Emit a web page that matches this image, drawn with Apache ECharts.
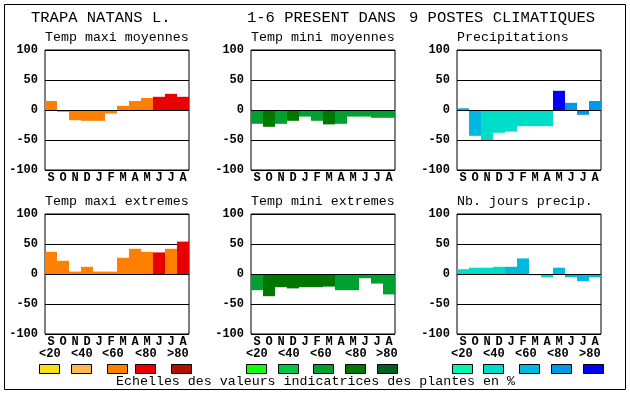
<!DOCTYPE html>
<html><head><meta charset="utf-8">
<script src="https://cdn.jsdelivr.net/npm/echarts@6/dist/echarts.min.js"></script>
<style>html,body{margin:0;padding:0;background:#fff}#c{width:630px;height:394px}</style>
</head><body><div id="c"></div>
<script>
// ---- data ----
const months = ['S','O','N','D','J','F','M','A','M','J','J','A'];
const titleParts = ['TRAPA NATANS L.', '1-6 PRESENT DANS', '9 POSTES CLIMATIQUES'];
const panelTitles = ['Temp maxi moyennes','Temp mini moyennes','Precipitations','Temp maxi extremes','Temp mini extremes','Nb. jours precip.'];
const tmaxMoy = [15,-3,-17,-18,-18,-6,7,15,20,22,27,22];
const tmaxMoyCls = [3,3,3,3,3,3,3,3,3,4,4,4];
const tminMoy = [-23,-28,-23,-18,-11,-18,-24,-23,-11,-11,-13,-13];
const tminMoyCls = [3,4,3,4,3,3,4,3,3,3,3,3];
const precip = [3,-43,-50,-38,-36,-27,-27,-27,32,12,-8,15];
const precipCls = [3,3,2,2,2,2,2,2,5,4,4,4];
const tmaxExt = [37,22,4,12,4,4,27,42,37,36,42,54];
const tmaxExtCls = [3,3,3,3,3,3,3,3,3,4,3,4];
const tminExt = [-27,-37,-22,-24,-22,-22,-21,-27,-27,-7,-16,-34];
const tminExtCls = [3,4,4,4,4,4,4,3,3,3,3,3];
const nbJours = [8,10.5,10.5,12,12,26,-2,-5.5,10.5,-5.5,-12,-5.5];
const nbJoursCls = [2,2,2,2,3,3,2,2,3,3,3,3];
const legendLabels = ['<20','<40','<60','<80','>80'];
const legendNote = 'Echelles des valeurs indicatrices des plantes en %';
const yMin = -100, yMax = 100, yStep = 50;
// colour scales
const tmaxColors = ['#F8E018','#FFB850','#FF8000','#E80000','#B01000'];
const tminColors = ['#10FF10','#00C840','#00A030','#007800','#006020'];
const precColors = ['#00F8B0','#00DCC8','#00B8E0','#0098E8','#0000F8'];

// ---- layout ----
const W = 144, H = 120;
const panels = [
  {l:45, t:50, v:tmaxMoy, c:tmaxMoyCls, pal:tmaxColors},
  {l:251,t:50, v:tminMoy, c:tminMoyCls, pal:tminColors},
  {l:457,t:50, v:precip,  c:precipCls,  pal:precColors},
  {l:45, t:214,v:tmaxExt, c:tmaxExtCls, pal:tmaxColors},
  {l:251,t:214,v:tminExt, c:tminExtCls, pal:tminColors},
  {l:457,t:214,v:nbJours, c:nbJoursCls, pal:precColors}
];
const MONO = '"Liberation Mono", "DejaVu Sans Mono", monospace';

const grid=[], xAxis=[], yAxis=[], series=[];
panels.forEach((p,i)=>{
  grid.push({left:p.l, top:p.t, width:W, height:H, show:true, borderColor:'#000', borderWidth:1, backgroundColor:'transparent'});
  xAxis.push({type:'category', gridIndex:i, data:months, boundaryGap:true,
    axisLine:{show:false}, axisTick:{show:false}, splitLine:{show:false},
    axisLabel:{color:'#000', fontFamily:MONO, fontWeight:'bold', fontSize:12, margin:2, interval:0}});
  yAxis.push({type:'value', gridIndex:i, min:yMin, max:yMax, interval:yStep,
    axisLine:{show:false}, axisTick:{show:false},
    splitLine:{show:true, lineStyle:{color:'#000', width:1}},
    axisLabel:{color:'#000', fontFamily:MONO, fontWeight:'bold', fontSize:12, margin:7}});
  series.push({type:'bar', xAxisIndex:i, yAxisIndex:i, barWidth:'100%', barCategoryGap:0,
    data:p.v.map((v,k)=>({value:v, itemStyle:{color:p.pal[p.c[k]-1]}})),
    markLine:{silent:true, symbol:['none','none'], label:{show:false}, animation:false,
      lineStyle:{color:'#000', width:1, type:'solid'}, data:[{yAxis:0}]}});
});

const graphic = [];
graphic.push({type:'rect', shape:{x:4.5,y:4.5,width:621,height:385}, style:{fill:'none', stroke:'#000', lineWidth:1}, z:100});
const titleX = [31,247,409];
titleParts.forEach((t,i)=>graphic.push({type:'text', left:titleX[i], top:10, style:{text:t, fill:'#000', font:'15.5px '+MONO}}));
panels.forEach((p,i)=>graphic.push({type:'text', left:p.l, top:p.t-19, style:{text:panelTitles[i], fill:'#000', font:'13.3px '+MONO}}));
const legendGroups = [
  {pal:tmaxColors, lx:[39,71,102,135,167], bx:[39,71,107,135,171]},
  {pal:tminColors, lx:[246,278,310,345,376], bx:[246,278,313,345,377]},
  {pal:precColors, lx:[451,483,515,547,579], bx:[452,483,519,551,583]}
];
legendGroups.forEach(g=>{
  legendLabels.forEach((lab,k)=>{
    graphic.push({type:'text', left:g.lx[k], top:348, style:{text:lab, fill:'#000', font:'bold 12px '+MONO}});
    graphic.push({type:'rect', shape:{x:g.bx[k]+0.5, y:364.5, width:20, height:9}, style:{fill:g.pal[k], stroke:'#000', lineWidth:1}});
  });
});
graphic.push({type:'text', left:116, top:375, style:{text:legendNote, fill:'#000', font:'13.3px '+MONO}});

const chart = echarts.init(document.getElementById('c'), null, {renderer:'canvas'});
chart.setOption({animation:false, backgroundColor:'#fff', grid, xAxis, yAxis, series, graphic});
</script></body></html>
